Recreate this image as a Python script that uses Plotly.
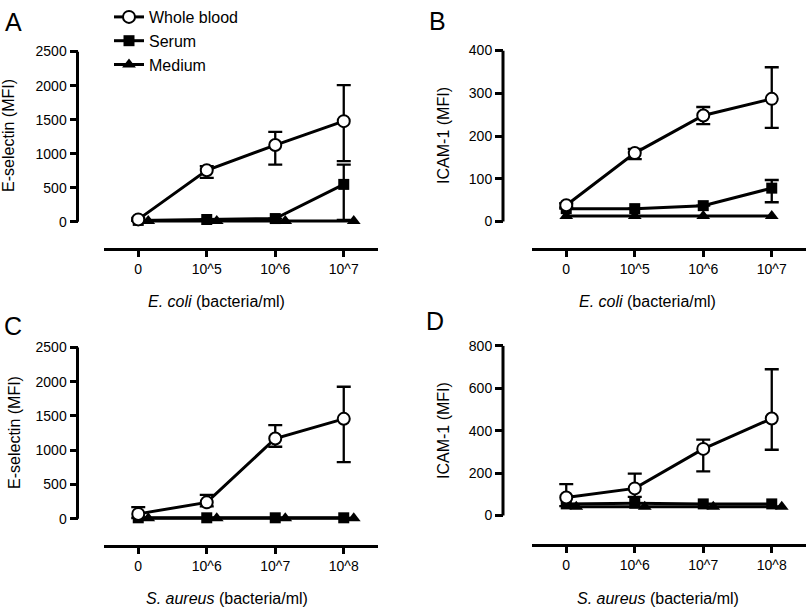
import plotly.graph_objects as go

W, H = 810, 613
FONT = "Liberation Sans, Arial, Helvetica, sans-serif"

# ---------------- data ----------------
series_names = ["Whole blood", "Serum", "Medium"]
ecoli_ticks = ["0", "10^5", "10^6", "10^7"]
saureus_ticks = ["0", "10^6", "10^7", "10^8"]
x_pos = [0, 1, 2, 3]

# Panel A: E-selectin, E. coli
a_wb = [35, 756, 1127, 1478]
a_wb_plus = [20, 60, 192, 530]
a_wb_minus = [20, 111, 289, 588]
a_serum = [20, 33, 47, 549]
a_serum_plus = [0, 0, 0, 289]
a_serum_minus = [0, 0, 0, 520]
a_medium = [10, 10, 10, 10]

# Panel B: ICAM-1, E. coli
b_wb = [38, 160, 248, 287]
b_wb_plus = [5, 10, 20, 74]
b_wb_minus = [5, 14, 20, 68]
b_serum = [30, 30, 37, 78]
b_serum_plus = [0, 0, 0, 19]
b_serum_minus = [0, 0, 0, 33]
b_medium = [13, 13, 13, 13]

# Panel C: E-selectin, S. aureus
c_wb = [72, 240, 1171, 1458]
c_wb_plus = [100, 108, 196, 468]
c_wb_minus = [60, 59, 120, 632]
c_serum = [15, 15, 15, 15]
c_medium = [8, 8, 8, 8]

# Panel D: ICAM-1, S. aureus
d_wb = [85, 128, 314, 457]
d_wb_plus = [63, 70, 44, 232]
d_wb_minus = [40, 40, 106, 147]
d_serum = [55, 58, 55, 55]
d_medium = [42, 42, 42, 42]

# ---------------- layout geometry (pixels) ----------------
panels = [
    dict(key="A", ylab="E-selectin (MFI)", xlab="<i>E. coli</i> (bacteria/ml)", ticks=ecoli_ticks,
         wb=a_wb, wbp=a_wb_plus, wbm=a_wb_minus, se=a_serum, sep=a_serum_plus, sem=a_serum_minus,
         me=a_medium, ymax=2500, dtick=500,
         yax_x=77.5, y0=217.3, ytop=44.3, xax_y=245, xl=104, xr=378, moff=0.146,
         ylab_xy=(9, 130), xlab_xy=(217, 298), letter_xy=(13, 14)),
    dict(key="B", ylab="ICAM-1 (MFI)", xlab="<i>E. coli</i> (bacteria/ml)", ticks=ecoli_ticks,
         wb=b_wb, wbp=b_wb_plus, wbm=b_wb_minus, se=b_serum, sep=b_serum_plus, sem=b_serum_minus,
         me=b_medium, ymax=400, dtick=100,
         yax_x=503, y0=217, ytop=43.3, xax_y=245, xl=532, xr=806, moff=0.0,
         ylab_xy=(444, 130), xlab_xy=(647, 298), letter_xy=(437, 13)),
    dict(key="C", ylab="E-selectin (MFI)", xlab="<i>S. aureus</i> (bacteria/ml)", ticks=saureus_ticks,
         wb=c_wb, wbp=c_wb_plus, wbm=c_wb_minus, se=c_serum, sep=None, sem=None,
         me=c_medium, ymax=2500, dtick=500,
         yax_x=77.5, y0=519.3, ytop=345, xax_y=547, xl=104, xr=378, moff=0.146,
         ylab_xy=(15, 432), xlab_xy=(227, 600), letter_xy=(13, 323)),
    dict(key="D", ylab="ICAM-1 (MFI)", xlab="<i>S. aureus</i> (bacteria/ml)", ticks=saureus_ticks,
         wb=d_wb, wbp=d_wb_plus, wbm=d_wb_minus, se=d_serum, sep=None, sem=None,
         me=d_medium, ymax=800, dtick=200,
         yax_x=503, y0=516, ytop=343.3, xax_y=546, xl=532, xr=806, moff=0.146,
         ylab_xy=(444, 430), xlab_xy=(658, 600), letter_xy=(435, 318)),
]


def px_x(v):
    return v / W


def px_y(v):
    return 1 - v / H


LINE_W = 3
ERR_W = 2.3
CAP = 7
PAD = 6

fig = go.Figure()
layout = {}
shapes = []
annotations = []

for i, p in enumerate(panels):
    n = "" if i == 0 else str(i + 1)
    xa, ya = "x" + n, "y" + n
    first = i == 0

    med_x = [v + p["moff"] for v in x_pos]
    fig.add_trace(go.Scatter(
        x=med_x, y=p["me"], mode="lines+markers", name=series_names[2],
        xaxis=xa, yaxis=ya, showlegend=first, legendgroup="m", cliponaxis=False,
        line=dict(color="black", width=LINE_W),
        marker=dict(symbol="triangle-up", size=12, color="black", line=dict(width=0))))

    serum_err = None
    if p["sep"] is not None:
        serum_err = dict(type="data", array=p["sep"], arrayminus=p["sem"], color="black",
                         thickness=ERR_W, width=CAP, symmetric=False)
    fig.add_trace(go.Scatter(
        x=x_pos, y=p["se"], mode="lines+markers", name=series_names[1],
        xaxis=xa, yaxis=ya, showlegend=first, legendgroup="s", cliponaxis=False,
        error_y=serum_err,
        line=dict(color="black", width=LINE_W),
        marker=dict(symbol="square", size=11, color="black", line=dict(width=0))))

    fig.add_trace(go.Scatter(
        x=x_pos, y=p["wb"], mode="lines+markers", name=series_names[0],
        xaxis=xa, yaxis=ya, showlegend=first, legendgroup="w", cliponaxis=False,
        error_y=dict(type="data", array=p["wbp"], arrayminus=p["wbm"], color="black",
                     thickness=ERR_W, width=CAP, symmetric=False),
        line=dict(color="black", width=LINE_W),
        marker=dict(symbol="circle", size=12, color="white", line=dict(color="black", width=2))))

    span_px = p["y0"] - p["ytop"]
    ymin = -PAD * p["ymax"] / span_px
    ydom = [px_y(p["y0"] + PAD), px_y(p["ytop"])]

    layout["xaxis" + n] = dict(
        domain=[px_x(p["xl"]), px_x(p["xr"])], range=[-0.5, 3.5], anchor="free",
        position=px_y(p["xax_y"]), showline=True, linewidth=3, linecolor="black",
        ticks="outside", ticklen=6, tickwidth=3, tickcolor="black",
        tickvals=x_pos, ticktext=p["ticks"], showgrid=False, zeroline=False,
        tickfont=dict(family=FONT, size=14, color="black"), fixedrange=True)
    layout["yaxis" + n] = dict(
        domain=ydom, range=[ymin, p["ymax"]], anchor="free", position=px_x(p["yax_x"]),
        showline=False, ticks="outside", ticklen=8, tickwidth=3, tickcolor="black",
        tickmode="linear", tick0=0, dtick=p["dtick"], showgrid=False, zeroline=False,
        tickfont=dict(family=FONT, size=14, color="black"), fixedrange=True)

    # y-axis spine from 0 to max (GraphPad style)
    shapes.append(dict(type="line", xref="paper", yref=ya, x0=px_x(p["yax_x"]), x1=px_x(p["yax_x"]),
                       y0=0, y1=p["ymax"], line=dict(color="black", width=3)))

    lx, ly = p["ylab_xy"]
    annotations.append(dict(text=p["ylab"], x=px_x(lx), y=px_y(ly), xref="paper", yref="paper",
                            showarrow=False, textangle=-90, xanchor="center", yanchor="middle",
                            font=dict(family=FONT, size=16, color="black")))
    tx, ty = p["xlab_xy"]
    annotations.append(dict(text=p["xlab"], x=px_x(tx), y=px_y(ty), xref="paper", yref="paper",
                            showarrow=False, xanchor="center", yanchor="middle",
                            font=dict(family=FONT, size=16, color="black")))
    cx, cy = p["letter_xy"]
    annotations.append(dict(text=p["key"], x=px_x(cx), y=px_y(cy), xref="paper", yref="paper",
                            showarrow=False, xanchor="center", yanchor="middle",
                            font=dict(family=FONT, size=25, color="black")))

fig.update_layout(
    width=W, height=H, autosize=False,
    margin=dict(l=0, r=0, t=0, b=0),
    paper_bgcolor="white", plot_bgcolor="white",
    font=dict(family=FONT, color="black"),
    shapes=shapes, annotations=annotations,
    legend=dict(x=px_x(109), y=1.0137, xanchor="left", yanchor="top", traceorder="reversed",
                bgcolor="rgba(0,0,0,0)", font=dict(family=FONT, size=16, color="black"),
                itemwidth=30, tracegroupgap=0),
    **layout)

# place the figure flush with the window's top-left corner
page_js = "document.body.style.margin='0';document.body.style.overflow='hidden';"
fig.write_html("out.html", post_script=page_js, config={"displayModeBar": False})
